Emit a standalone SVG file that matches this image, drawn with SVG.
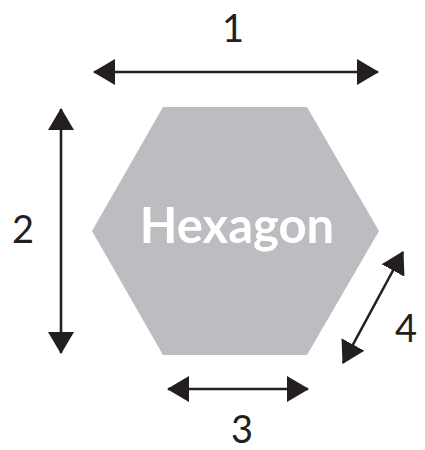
<svg xmlns="http://www.w3.org/2000/svg" width="425" height="450" viewBox="0 0 425 450">
<style>
.dim{stroke:#231f20;stroke-width:2.6;fill:none;marker-start:url(#ah);marker-end:url(#ah)}
.lbl{font-family:Lato,"Liberation Sans",sans-serif;font-size:38px;fill:#231f20;text-anchor:middle}
.title{font-family:Lato,"Liberation Sans",sans-serif;font-weight:bold;font-size:49px;fill:#ffffff;text-anchor:middle}
</style>
<defs>
<marker id="ah" viewBox="0 0 22 26" refX="21" refY="13" markerWidth="22" markerHeight="26" markerUnits="userSpaceOnUse" orient="auto-start-reverse">
<path d="M0,0 L22,13 L0,26 z" fill="#231f20"/>
</marker>
</defs>
<rect width="425" height="450" fill="#ffffff"/>
<g id="hexagon">
<polygon points="163,107 307,107 379,231 307,355 163,355 92,231" fill="#bcbdc0"/>
<text class="title" x="237" y="243">Hexagon</text>
</g>
<g id="connectors">
<line class="dim" x1="94" y1="72" x2="378" y2="72"/>
<line class="dim" x1="61" y1="109" x2="61" y2="353"/>
<line class="dim" x1="168" y1="389" x2="308" y2="389"/>
<line class="dim" x1="403" y1="252" x2="343" y2="363"/>
</g>
<g id="labels">
<text class="lbl" x="233" y="42">1</text>
<text class="lbl" x="23" y="243">2</text>
<text class="lbl" x="242" y="443">3</text>
<text class="lbl" x="406" y="342">4</text>
</g>
</svg>
